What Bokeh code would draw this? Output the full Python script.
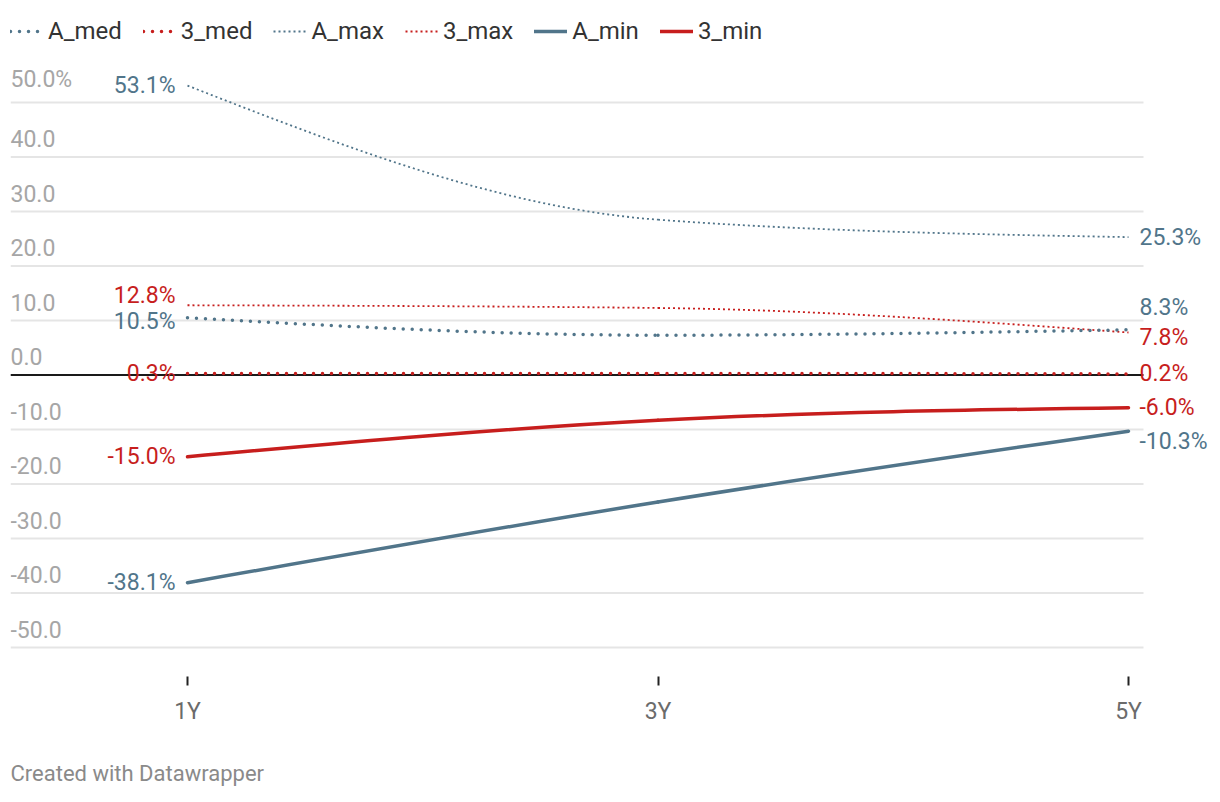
import numpy as np
from bokeh.plotting import figure
from bokeh.models import (ColumnDataSource, Range1d, FixedTicker, LabelSet,
                          Legend, LegendItem, Title)
from bokeh.core.properties import value
from bokeh.embed import file_html
from bokeh.resources import INLINE

# ---------------- data ----------------
periods = ["1Y", "3Y", "5Y"]
A_med = [10.5, 7.3, 8.3]
s3_med = [0.3, 0.3, 0.2]
A_max = [53.1, 28.5, 25.3]
s3_max = [12.8, 12.3, 7.8]
A_min = [-38.1, -23.3, -10.3]
s3_min = [-15.0, -8.3, -6.0]
y_ticks = [50, 40, 30, 20, 10, 0, -10, -20, -30, -40, -50]
y_tick_labels = ["50.0%", "40.0", "30.0", "20.0", "10.0", "0.0", "-10.0", "-20.0", "-30.0", "-40.0", "-50.0"]

BLUE = "#51758a"
RED = "#c71e1d"
FONT = "Roboto"

xs = list(range(len(periods)))

# layout (frame spans the whole width; grid lines stop before the right labels)
FRAME_W, FRAME_H = 1210, 676
PX_PER_X = 470.5
x0 = -177 / PX_PER_X
x1 = 2 + 92 / PX_PER_X
x_grid_end = 2 + 15 / PX_PER_X
y0 = -55.32
y1 = 68.72

p = figure(width=1220, height=802, output_backend="svg", toolbar_location=None,
           x_range=Range1d(x0, x1), y_range=Range1d(y0, y1),
           frame_width=FRAME_W, frame_height=FRAME_H,
           min_border_left=10, min_border_right=0, min_border_top=0, min_border_bottom=126)
p.outline_line_color = None
p.background_fill_color = "white"
p.border_fill_color = "white"

p.xgrid.visible = False
p.ygrid.visible = False
p.yaxis.visible = False

# grid lines
p.segment(x0=[x0] * len(y_ticks), x1=[x_grid_end] * len(y_ticks), y0=y_ticks, y1=y_ticks,
          line_color="#e5e5e5", line_width=2)

# x axis
xa = p.xaxis[0]
xa.ticker = FixedTicker(ticks=xs)
xa.major_label_overrides = {i: lab for i, lab in enumerate(periods)}
xa.axis_line_color = None
xa.minor_tick_line_color = None
xa.major_tick_in = 0
xa.major_tick_out = 9
xa.major_tick_line_color = "#222222"
xa.major_tick_line_width = 2
xa.major_label_standoff = 12
xa.major_label_text_font = FONT
xa.major_label_text_font_size = "23px"
xa.major_label_text_color = "#6b6b6b"

# zero baseline
p.segment(x0=[x0], x1=[x_grid_end], y0=[0], y1=[0], line_color="#1a1a1a", line_width=2)


def monotone_bezier(xv, yv):
    xv = np.asarray(xv, float)
    yv = np.asarray(yv, float)
    n = len(xv)
    h = np.diff(xv)
    s = np.diff(yv) / h
    t = np.zeros(n)
    for i in range(1, n - 1):
        pp = (s[i - 1] * h[i] + s[i] * h[i - 1]) / (h[i - 1] + h[i])
        t[i] = (np.sign(s[i - 1]) + np.sign(s[i])) * min(abs(s[i - 1]), abs(s[i]), 0.5 * abs(pp))
    t[0] = (3 * s[0] - t[1]) / 2
    t[-1] = (3 * s[-1] - t[-2]) / 2
    d = h / 3
    return dict(x0=xv[:-1], y0=yv[:-1], x1=xv[1:], y1=yv[1:],
                cx0=xv[:-1] + d, cy0=yv[:-1] + d * t[:-1],
                cx1=xv[1:] - d, cy1=yv[1:] - d * t[1:])


series = [
    ("A_med", A_med, BLUE, 3.5, "0 9", "round"),
    ("3_med", s3_med, RED, 3.5, "0 9", "round"),
    ("A_max", A_max, BLUE, 1.8, "2 3", "butt"),
    ("3_max", s3_max, RED, 1.8, "2 3", "butt"),
    ("A_min", A_min, BLUE, 3.5, "solid", "round"),
    ("3_min", s3_min, RED, 3.5, "solid", "round"),
]

items = {}
for name, vals, col, lw, dash, cap in [series[2], series[3], series[4], series[5], series[0], series[1]]:
    src = ColumnDataSource(monotone_bezier(xs, vals))
    r = p.bezier(x0="x0", y0="y0", x1="x1", y1="y1", cx0="cx0", cy0="cy0", cx1="cx1", cy1="cy1",
                 source=src, line_color=col, line_width=lw, line_dash=dash, line_cap=cap)
    items[name] = r

legend = Legend(items=[LegendItem(label=s[0], renderers=[items[s[0]]]) for s in series],
                orientation="horizontal", location=(0, FRAME_H - 45),
                glyph_width=33, glyph_height=20, label_standoff=5, spacing=21,
                padding=0, margin=0, border_line_color=None, background_fill_alpha=0,
                label_text_font=FONT, label_text_font_size="24px", label_text_color="#333333")
p.add_layout(legend)

# y tick labels (inside the plot, above grid lines)
ysrc = ColumnDataSource(dict(x=[x0] * len(y_ticks), y=y_ticks, t=y_tick_labels))
p.add_layout(LabelSet(x="x", y="y", text="t", source=ysrc, x_offset=0, y_offset=10,
                      text_font=value(FONT), text_font_size=value("23px"), text_color="#a6a6a6",
                      text_align="left", text_baseline="bottom"))

# line end labels
cols = [BLUE, RED, BLUE, RED, BLUE, RED]
left_vals = [A_med[0], s3_med[0], A_max[0], s3_max[0], A_min[0], s3_min[0]]
right_vals = [A_med[-1], s3_med[-1], A_max[-1], s3_max[-1], A_min[-1], s3_min[-1]]
left_shift = [-4, 0, 0, 10, 0, 0]
right_shift = [22, 0, 0, -5, -10, 0]

lsrc = ColumnDataSource(dict(x=[xs[0]] * 6, y=left_vals, t=[f"{v:.1f}%" for v in left_vals],
                             c=cols, o=left_shift))
rsrc = ColumnDataSource(dict(x=[xs[-1]] * 6, y=right_vals, t=[f"{v:.1f}%" for v in right_vals],
                             c=cols, o=right_shift))
p.add_layout(LabelSet(x="x", y="y", text="t", source=lsrc, x_offset=-12, y_offset="o",
                      text_font=value(FONT), text_font_size=value("23px"), text_color="c",
                      text_align="right", text_baseline="middle"))
p.add_layout(LabelSet(x="x", y="y", text="t", source=rsrc, x_offset=11, y_offset="o",
                      text_font=value(FONT), text_font_size=value("23px"), text_color="c",
                      text_align="left", text_baseline="middle"))

footer = Title(text="Created with Datawrapper", align="left", text_font=FONT,
               text_font_size="22px", text_font_style="normal", text_color="#8a8a8a",
               standoff=63)
p.add_layout(footer, "below")

open("out.html", "w").write(file_html(p, INLINE))
